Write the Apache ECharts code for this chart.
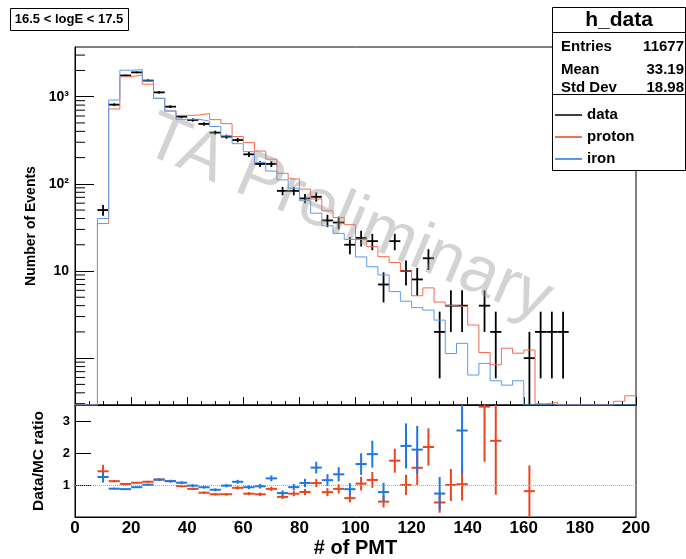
<!DOCTYPE html>
<html>
<head>
<meta charset="utf-8">
<script src="https://cdn.jsdelivr.net/npm/echarts@6/dist/echarts.min.js"></script>
<style>
html, body { margin: 0; padding: 0; background: #fff; }
#chart { width: 686px; height: 559px; }
</style>
</head>
<body>
<div id="chart"></div>
<script>
// bin centers of the # of PMT histogram (bin width 4)
const binCenters = [2, 6, 10, 14, 18, 22, 26, 30, 34, 38,
  42, 46, 50, 54, 58, 62, 66, 70, 74, 78,
  82, 86, 90, 94, 98, 102, 106, 110, 114, 118,
  122, 126, 130, 134, 138, 142, 146, 150, 154, 158,
  162, 166, 170, 174, 178, 182, 186, 190, 194, 198];
const binWidth = 4;

// observed events
const dataCounts = [0, 0, 50, 810, 1750, 1900, 1530, 1120, 768, 590,
  541, 487, 387, 348, 318, 218, 169, 169, 83, 83,
  68, 71, 38, 36, 20, 24, 22, 7, 22, 10,
  8, 14, 2, 4, 4, 0, 4, 2, 0, 0,
  1, 2, 2, 2, 0, 0, 0, 0, 0, 0];

// MC, normalised
const protonMC = [0, 0, 35, 723, 1694, 1774, 1388, 958, 685, 610,
  615, 641, 545, 490, 349, 299, 238, 192, 132, 114,
  87, 67, 49, 41, 34, 23, 19, 14.6, 12.5, 10,
  5.2, 6.4, 4.4, 4.0, 3.9, 2.4, 1.16, 0.84, 1.3, 1.14,
  1.24, 0.30, 0.31, 0, 0, 0, 0, 0, 0.32, 0.37];
const ironMC = [0, 0, 40, 916, 2011, 2042, 1514, 958, 685, 550,
  552, 524, 455, 355, 289, 234, 176, 140, 111, 89,
  64, 46, 33, 27, 23, 14.5, 11.2, 9.0, 5.8, 4.5,
  3.8, 3.56, 2.73, 1.13, 1.48, 0.64, 0.87, 0.55, 0.49, 0.55,
  0, 0, 0, 0, 0, 0, 0, 0, 0, 0];

const statsRows = [['Entries', '11677'], ['Mean', '33.19'], ['Std Dev', '18.98']];
const yMinorTicks = [0.3, 0.4, 0.5, 0.6, 0.7, 0.8, 0.9,
  2, 3, 4, 5, 6, 7, 8, 9,
  20, 30, 40, 50, 60, 70, 80, 90,
  200, 300, 400, 500, 600, 700, 800, 900,
  2000, 3000];

const yMin = 0.29, yMax = 3715;
const ratioMax = 3.5;
const FONT = '"Liberation Sans", Arial, Helvetica, sans-serif';
const RED = '#e8461f', BLUE = '#1f78e0';

function stepPoints(vals) {
  const pts = [];
  binCenters.forEach((c, i) => {
    const v = vals[i] > 0 ? vals[i] : yMin;
    pts.push([c - binWidth / 2, v], [c + binWidth / 2, v]);
  });
  return pts;
}

function ratioPoints(mc) {
  const out = [];
  binCenters.forEach((c, i) => {
    const n = dataCounts[i];
    if (n > 0 && mc[i] > 0) {
      const r = n / mc[i];
      if (r <= ratioMax) out.push([c, r, r / Math.sqrt(n)]);
    }
  });
  return out;
}

const dataPoints = [];
binCenters.forEach((c, i) => {
  if (dataCounts[i] > 0) dataPoints.push([c, dataCounts[i], Math.sqrt(dataCounts[i])]);
});

function crossItem(color, width, lowClamp) {
  return function (params, api) {
    const x = api.value(0), y = api.value(1), e = api.value(2);
    const lo = Math.max(y - e, lowClamp), hi = y + e;
    const pL = api.coord([x - binWidth / 2, y]);
    const pR = api.coord([x + binWidth / 2, y]);
    const pB = api.coord([x, lo]);
    const pT = api.coord([x, hi]);
    return {
      type: 'group',
      children: [
        { type: 'line', shape: { x1: pL[0], y1: pL[1], x2: pR[0], y2: pR[1] }, style: { stroke: color, lineWidth: width } },
        { type: 'line', shape: { x1: pB[0], y1: pB[1], x2: pT[0], y2: pT[1] }, style: { stroke: color, lineWidth: width } }
      ]
    };
  };
}

const chart = echarts.init(document.getElementById('chart'));

const txt = (text, x, y, size, align, extra) => Object.assign({
  type: 'text', x: x, y: y, z: 101,
  style: { text: text, font: 'bold ' + size + 'px ' + FONT, fill: '#000', align: align, verticalAlign: 'middle' }
}, extra || {});
const seg = (x1, y1, x2, y2, color, w) => ({
  type: 'line', z: 101, shape: { x1: x1, y1: y1, x2: x2, y2: y2 }, style: { stroke: color, lineWidth: w }
});

const graphic = [
  { type: 'rect', z: 100, shape: { x: 10.5, y: 8.5, width: 118, height: 22 }, style: { fill: '#fff', stroke: '#000', lineWidth: 1 } },
  txt('16.5 < logE < 17.5', 69, 19.5, 13, 'center'),
  { type: 'rect', z: 100, shape: { x: 552.5, y: 7.5, width: 133, height: 163 }, style: { fill: '#fff', stroke: '#000', lineWidth: 1 } },
  txt('h_data', 619, 20, 21, 'center'),
  seg(552.5, 32.5, 685.5, 32.5, '#000', 1),
  seg(552.5, 94.5, 685.5, 94.5, '#000', 1),
  seg(555, 115, 582, 115, '#000', 1.5),
  txt('data', 587, 115, 15, 'left'),
  seg(555, 137, 582, 137, RED, 1.5),
  txt('proton', 587, 137, 15, 'left'),
  seg(555, 159, 582, 159, BLUE, 1.5),
  txt('iron', 587, 159, 15, 'left'),
  {
    type: 'text', x: 348, y: 219, rotation: -0.40, z: 90,
    style: { text: 'TA Preliminary', font: '67px ' + FONT, fill: 'rgba(150,150,150,0.42)', align: 'center', verticalAlign: 'middle' }
  }
];
[46.7, 70, 88].forEach((y, k) => {
  graphic.push(txt(statsRows[k][0], 561, y, 15, 'left'));
  graphic.push(txt(statsRows[k][1], 684, y, 15, 'right'));
});

const option = {
  animation: false,
  backgroundColor: '#fff',
  textStyle: { fontFamily: FONT },
  grid: [
    { left: 75, top: 47, width: 561, height: 358, show: true, borderColor: '#000', borderWidth: 1, backgroundColor: 'transparent' },
    { left: 75, top: 405, width: 561, height: 116, show: true, borderColor: '#000', borderWidth: 1, backgroundColor: 'transparent' }
  ],
  xAxis: [
    {
      gridIndex: 0, type: 'value', min: 0, max: 200, interval: 20,
      axisLine: { lineStyle: { color: '#000' } },
      axisTick: { inside: true, length: 8, lineStyle: { color: '#000' } },
      minorTick: { show: true, splitNumber: 4, length: 4, lineStyle: { color: '#000' } },
      axisLabel: { show: false },
      splitLine: { show: false }
    },
    {
      gridIndex: 1, type: 'value', min: 0, max: 200, interval: 20,
      axisLine: { lineStyle: { color: '#000' } },
      axisTick: { show: false },
      axisLabel: { color: '#000', fontSize: 17, fontWeight: 'bold', margin: 3 },
      splitLine: { show: false },
      name: '# of PMT', nameLocation: 'middle', nameGap: 21,
      nameTextStyle: { color: '#000', fontSize: 20, fontWeight: 'bold' }
    }
  ],
  yAxis: [
    {
      gridIndex: 0, type: 'log', logBase: 10, min: yMin, max: yMax,
      axisLine: { show: true, lineStyle: { color: '#000' } },
      axisTick: { show: true, inside: true, length: 19, lineStyle: { color: '#000' } },
      axisLabel: {
        color: '#000', fontSize: 14, fontWeight: 'bold', margin: 6,
        showMinLabel: false, showMaxLabel: false,
        formatter: function (v) {
          const e = Math.log10(v), r = Math.round(e);
          if (Math.abs(e - r) > 1e-6) return '';
          return r === 1 ? '10' : r === 2 ? '10²' : r === 3 ? '10³' : '';
        }
      },
      splitLine: { show: false },
      name: 'Number of Events', nameLocation: 'middle', nameGap: 33, nameRotate: 90,
      nameTextStyle: { color: '#000', fontSize: 14, fontWeight: 'bold' }
    },
    {
      gridIndex: 1, type: 'value', min: 0, max: ratioMax, interval: 1,
      axisLine: { show: true, lineStyle: { color: '#000' } },
      axisTick: { show: true, inside: true, length: 16, lineStyle: { color: '#000' } },
      axisLabel: {
        color: '#000', fontSize: 13, fontWeight: 'bold', margin: 5,
        formatter: function (v) { return (v >= 1 && v <= 3 && Number.isInteger(v)) ? String(v) : ''; }
      },
      splitLine: { show: false },
      name: 'Data/MC ratio', nameLocation: 'middle', nameGap: 28, nameRotate: 90,
      nameTextStyle: { color: '#000', fontSize: 15.5, fontWeight: 'bold' }
    }
  ],
  graphic: graphic,
  series: [
    {
      type: 'custom', name: 'minor ticks', xAxisIndex: 0, yAxisIndex: 0, silent: true,
      data: yMinorTicks.map(v => [0, v]),
      encode: { x: 0, y: 1 },
      renderItem: function (params, api) {
        const p = api.coord([0, api.value(1)]);
        return { type: 'line', shape: { x1: p[0], y1: p[1], x2: p[0] + 10, y2: p[1] }, style: { stroke: '#000', lineWidth: 1 } };
      }
    },
    {
      type: 'custom', name: 'data', xAxisIndex: 0, yAxisIndex: 0, z: 3,
      data: dataPoints, encode: { x: 0, y: 1 }, clip: true,
      renderItem: crossItem('#000', 1.8, yMin)
    },
    {
      type: 'line', name: 'proton', xAxisIndex: 0, yAxisIndex: 0, z: 4,
      data: stepPoints(protonMC), showSymbol: false, symbol: 'none',
      lineStyle: { color: '#f26b52', width: 1 }
    },
    {
      type: 'line', name: 'iron', xAxisIndex: 0, yAxisIndex: 0, z: 5,
      data: stepPoints(ironMC), showSymbol: false, symbol: 'none',
      lineStyle: { color: '#5b9bec', width: 1 }
    },
    {
      type: 'custom', name: 'data/proton', xAxisIndex: 1, yAxisIndex: 1, z: 4,
      data: ratioPoints(protonMC), encode: { x: 0, y: 1 }, clip: true,
      renderItem: crossItem(RED, 2, 0),
      markLine: {
        silent: true, symbol: 'none', label: { show: false },
        lineStyle: { type: 'dotted', color: '#b0b0b0', width: 1 },
        data: [{ yAxis: 1 }]
      }
    },
    {
      type: 'custom', name: 'data/iron', xAxisIndex: 1, yAxisIndex: 1, z: 5,
      data: ratioPoints(ironMC), encode: { x: 0, y: 1 }, clip: true,
      renderItem: crossItem(BLUE, 2, 0)
    }
  ]
};

chart.setOption(option);
window.addEventListener('resize', chart.resize);
</script>
</body>
</html>
